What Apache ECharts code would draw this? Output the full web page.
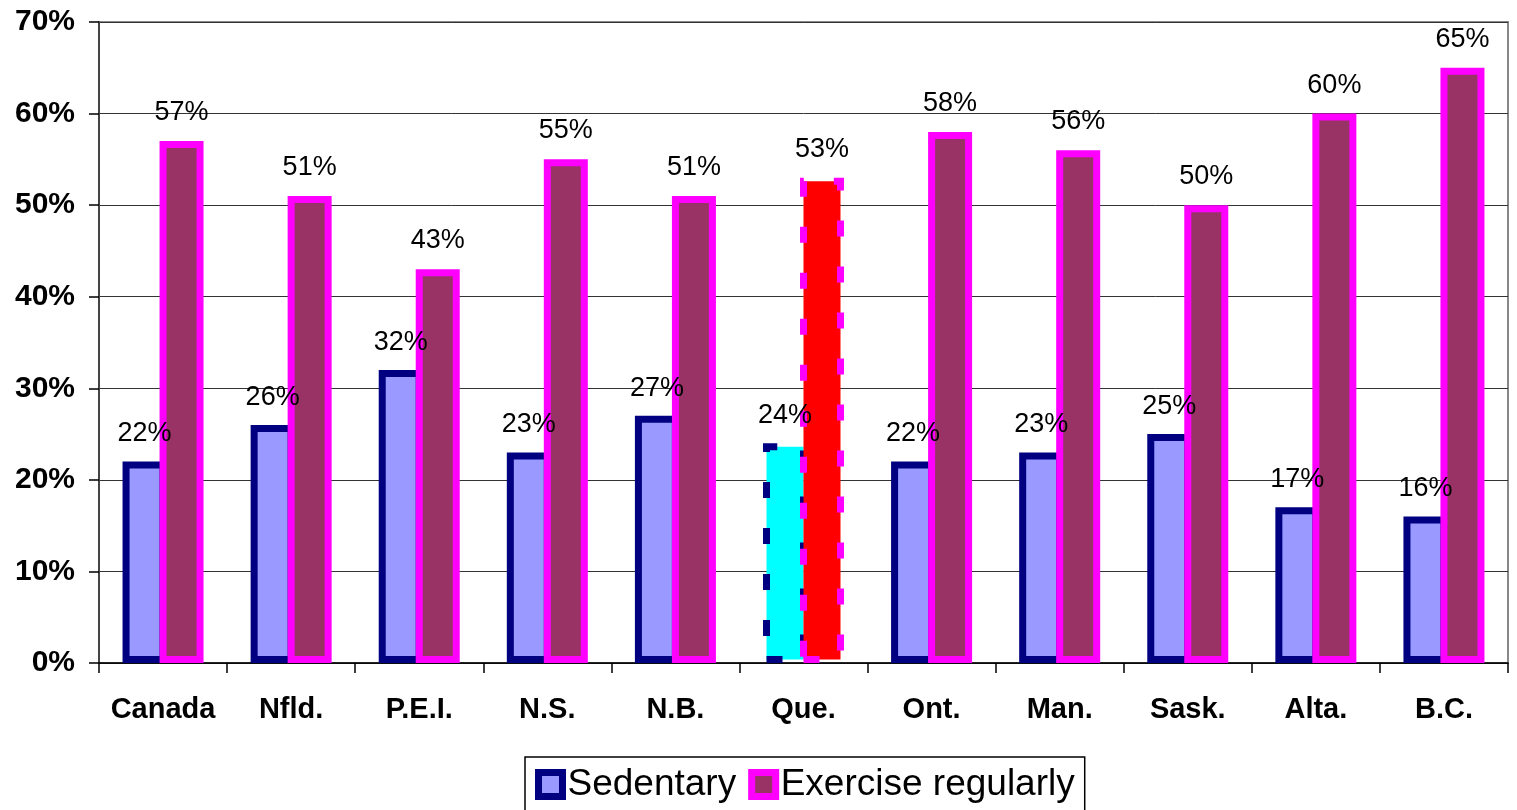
<!DOCTYPE html>
<html>
<head>
<meta charset="utf-8">
<script src="https://cdn.jsdelivr.net/npm/echarts@6/dist/echarts.min.js"></script>
<style>
html,body{margin:0;padding:0;background:#fff;}
#chart{width:1517px;height:810px;}
</style>
</head>
<body>
<div id="chart"></div>
<script>
const categories = ['Canada', 'Nfld.', 'P.E.I.', 'N.S.', 'N.B.', 'Que.', 'Ont.', 'Man.', 'Sask.', 'Alta.', 'B.C.'];
const sedentary = [22, 26, 32, 23, 27, 24, 22, 23, 25, 17, 16];
const exercise = [57, 51, 43, 55, 51, 53, 58, 56, 50, 60, 65];
const yTicks = [0, 10, 20, 30, 40, 50, 60, 70];
const highlighted = 'Que.';

const FONT = '"Liberation Sans", Arial, sans-serif';

function buildData(values, hiStyle) {
  return values.map((v, i) => categories[i] === highlighted
    ? { value: v, itemStyle: hiStyle }
    : v);
}

const chart = echarts.init(document.getElementById('chart'), null, { renderer: 'canvas' });
chart.setOption({
  animation: false,
  backgroundColor: '#fff',
  textStyle: { fontFamily: FONT },
  grid: {
    left: 99, right: 9, top: 22, bottom: 147,
    show: true, borderColor: '#888', borderWidth: 2, backgroundColor: 'transparent'
  },
  legend: {
    left: 525, top: 757,
    padding: [9, 10, 14, 10],
    borderColor: '#000', borderWidth: 1.5,
    itemWidth: 24, itemHeight: 24, itemGap: 12,
    icon: 'rect',
    textStyle: { fontSize: 37, color: '#000', fontFamily: FONT },
    data: [
      { name: 'Sedentary', itemStyle: { color: '#9999FF', borderColor: '#000080', borderWidth: 7 } },
      { name: 'Exercise regularly', itemStyle: { color: '#993366', borderColor: '#FF00FF', borderWidth: 7 } }
    ]
  },
  xAxis: {
    type: 'category',
    data: categories,
    boundaryGap: true,
    axisLine: { lineStyle: { color: '#000', width: 1.5 } },
    axisTick: { show: true, interval: 0, length: 10, lineStyle: { color: '#000', width: 1.5 } },
    axisLabel: { interval: 0, fontSize: 29, fontWeight: 'bold', color: '#000', margin: 32, fontFamily: FONT }
  },
  yAxis: {
    type: 'value',
    min: yTicks[0], max: yTicks[yTicks.length - 1], interval: 10,
    axisLine: { show: true, lineStyle: { color: '#444', width: 2 } },
    axisTick: { show: true, length: 10, lineStyle: { color: '#000', width: 1.5 } },
    axisLabel: { fontSize: 30, fontWeight: 'bold', color: '#000', margin: 24, formatter: '{value}%', fontFamily: FONT },
    splitLine: { show: true, lineStyle: { color: '#333', width: 1 } }
  },
  series: [
    {
      name: 'Sedentary',
      type: 'bar',
      barWidth: 44,
      barGap: '-15.9%',
      data: buildData(sedentary, { color: '#00FFFF', borderColor: '#000080', borderWidth: 7, borderType: [16, 30] }),
      itemStyle: { color: '#9999FF', borderColor: '#000080', borderWidth: 7 },
      label: { show: true, position: 'top', distance: 14, formatter: '{c}%', fontSize: 27, color: '#000', fontFamily: FONT }
    },
    {
      name: 'Exercise regularly',
      type: 'bar',
      barWidth: 44,
      barGap: '-15.9%',
      data: buildData(exercise, { color: '#FF0000', borderColor: '#FF00FF', borderWidth: 7, borderType: [16, 30] }),
      itemStyle: { color: '#993366', borderColor: '#FF00FF', borderWidth: 7 },
      label: { show: true, position: 'top', distance: 15, formatter: '{c}%', fontSize: 27, color: '#000', fontFamily: FONT }
    }
  ]
});
</script>
</body>
</html>
